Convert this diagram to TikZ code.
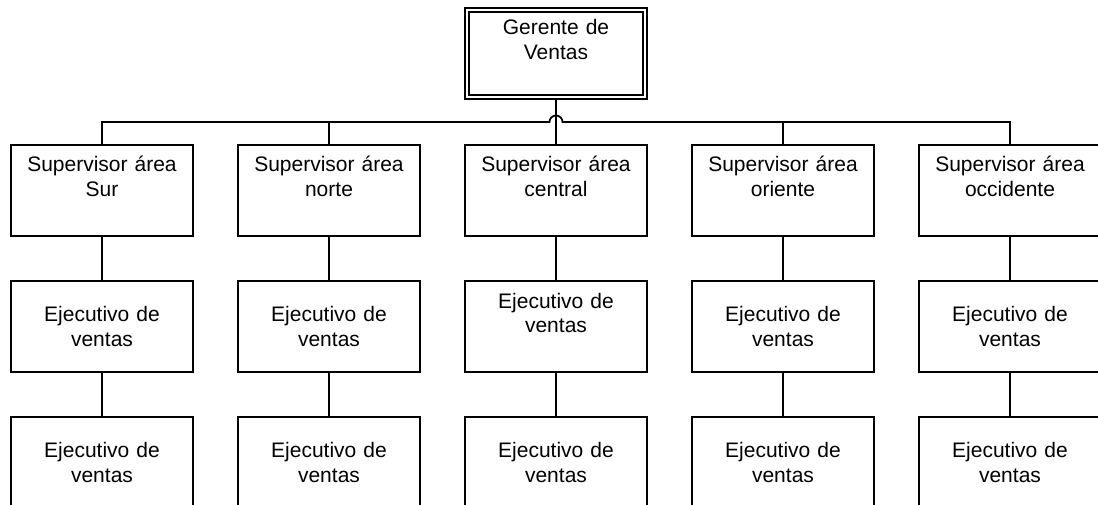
\documentclass[tikz,border=0pt]{standalone}
\usepackage{fontspec}
\setmainfont{Liberation Sans}
\usetikzlibrary{calc}
\tikzset{
  wire/.style         = {line width=1.7pt},
  cargo/.style        = {draw, line width=1.7pt, inner sep=0pt,
                         minimum width=182pt, minimum height=91pt,
                         text width=182pt, align=center,
                         font=\fontsize{21}{24.5}\selectfont},
  cargo arriba/.style = {cargo, text height=27pt, text depth=64pt},
  gerente/.style      = {cargo arriba, double, double distance=2.6pt, line width=1.4pt,
                         minimum width=178pt, minimum height=87pt, text width=178pt,
                         text height=25pt, text depth=62pt},
}

\begin{document}
\begin{tikzpicture}[x=1pt,y=1pt]
  \useasboundingbox (0,0) rectangle (1098,-505);
  \clip (0,0) rectangle (1098,-505);

  \node[gerente] (gv) at (556,-53.5) {Gerente de\\Ventas};
  \coordinate (bus) at (0,-122);

  % one column per area
  \foreach \i/\area/\est in {1/Sur/cargo,2/norte/cargo,3/central/cargo arriba,
                             4/oriente/cargo,5/occidente/cargo}{
    \pgfmathsetmacro{\xc}{102+(\i-1)*227}
    \node[cargo arriba] (sup\i) at (\xc,-190.5) {Supervisor área\\\area};
    \node[\est] (eje\i) at (\xc,-326.5) {Ejecutivo de\\ventas};
    \node[cargo] (ejb\i) at (\xc,-462.5) {Ejecutivo de\\ventas};
    \draw[wire] (sup\i.south) -- (eje\i.north);
    \draw[wire] (eje\i.south) -- (ejb\i.north);
  }

  % bus with a hop over the central line
  \draw[wire] (sup1.north) -- (sup1.north |- bus)
    -- ($(gv.south |- bus)+(-6.5,0)$) arc[start angle=180,end angle=0,radius=6.5]
    -- (sup5.north |- bus) -- (sup5.north);
  \draw[wire] (sup2.north) -- (sup2.north |- bus);
  \draw[wire] (sup4.north) -- (sup4.north |- bus);
  \draw[wire] (gv.south) ++(0,-2) -- (sup3.north);
\end{tikzpicture}
\end{document}
